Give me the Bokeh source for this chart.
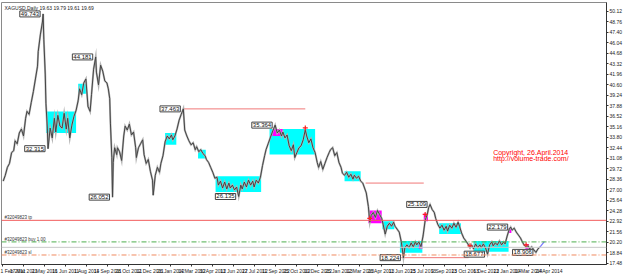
from bokeh.plotting import figure
from bokeh.models import Range1d, FixedTicker, Label, Span
from bokeh.core.properties import value
from bokeh.embed import file_html
from bokeh.resources import INLINE

# ---------------- data ----------------
bars = [1, 4, 7, 10, 13, 16, 18, 21, 24, 27,
        30, 33, 35, 38, 41, 44, 47, 50, 51, 54,
        57, 58, 59, 61, 62, 64, 65, 68, 71, 74,
        76, 79, 82, 85, 88, 91, 93, 96, 99, 102,
        105, 108, 110, 113, 116, 119, 122, 125, 127, 130,
        133, 134, 137, 140, 143, 146, 149, 151, 153, 154,
        156, 157, 158, 160, 163, 164, 167, 170, 173, 175,
        178, 181, 184, 187, 190, 191, 194, 197, 200, 202,
        205, 208, 211, 214, 215, 218, 221, 224, 226, 229,
        232, 235, 238, 241, 243, 246, 249, 252, 255, 258,
        260, 263, 266, 269, 272, 275, 277, 280, 283, 286,
        289, 291, 294, 297, 300, 303, 306, 308, 311, 314,
        317, 320, 323, 325, 328, 331, 334, 337, 340, 342,
        345, 348, 351, 354, 357, 359, 362, 365, 368, 371,
        374, 376, 379, 382, 385, 389, 392, 395, 398, 400,
        403, 406, 409, 412, 415, 417, 420, 423, 426, 429,
        432, 434, 437, 440, 443, 446, 449, 451, 454, 457,
        460, 463, 466, 468, 471, 474, 477, 480, 483, 485,
        488, 491, 494, 497, 500, 502, 505, 508, 511, 514,
        516, 519, 522, 524, 526, 529, 532, 535, 538, 541,
        543, 546, 549, 552, 555, 558, 560, 563, 566, 569,
        572, 574, 577, 580, 583, 586, 589, 591, 594, 597,
        600, 603, 606, 608, 610, 613, 616, 618, 621, 624,
        627, 630, 633, 635, 638, 641, 644, 647, 650, 652,
        655, 658, 661, 664, 667, 669, 672, 675, 678, 681,
        683, 686, 689, 692, 695, 698, 700, 703, 706, 709,
        712, 715, 717, 720, 723, 725, 727, 730, 733, 736,
        739, 741, 744, 747, 750, 752, 755, 758, 761, 764, 767]

close = [28.12, 28.88, 29.90, 30.41, 31.81, 32.06, 33.33, 32.95, 34.35, 34.85,
         33.96, 36.25, 37.14, 36.76, 38.28, 39.68, 41.33, 42.98, 44.88, 47.03,
         48.69, 49.743, 46.40, 41.97, 38.16, 34.98, 32.315, 34.98, 33.71, 36.25,
         34.47, 36.63, 35.23, 34.98, 36.89, 34.85, 36.25, 33.71, 35.36, 36.50,
         37.27, 38.54, 40.06, 39.30, 40.82, 41.33, 37.77, 37.14, 39.30, 42.60,
         44.181, 42.22, 40.57, 43.11, 42.35, 41.08, 40.82, 40.06, 38.79, 35.62,
         31.17, 26.052, 30.54, 32.44, 31.55, 32.44, 31.93, 30.79, 33.96, 35.23,
         34.73, 35.49, 34.09, 34.47, 32.44, 31.17, 32.44, 32.95, 33.46, 31.55,
         30.41, 30.92, 29.39, 28.25, 26.30, 28.88, 29.90, 29.27, 30.41, 31.42,
         33.20, 33.96, 33.58, 34.09, 33.46, 33.96, 34.85, 36.00, 36.76, 37.463,
         34.73, 33.96, 33.33, 32.82, 33.08, 32.19, 32.57, 31.93, 32.19, 31.68,
         31.42, 30.92, 30.54, 29.90, 29.27, 28.50, 28.63, 27.61, 28.12, 27.23,
         28.00, 27.11, 27.87, 27.23, 27.61, 26.98, 27.36, 26.135, 27.61, 27.11,
         28.00, 27.36, 28.25, 27.61, 28.12, 27.36, 28.25, 27.87, 28.63, 30.15,
         31.42, 32.19, 32.95, 33.71, 34.47, 35.364, 34.35, 34.73, 33.96, 34.47,
         33.71, 34.09, 32.69, 32.06, 32.82, 31.17, 31.81, 32.44, 32.69, 33.46,
         34.75, 33.96, 33.08, 33.58, 32.44, 31.81, 30.54, 29.90, 30.66, 29.65,
         30.41, 31.17, 31.81, 32.19, 32.44, 31.42, 31.81, 30.54, 29.90, 29.14,
         28.88, 29.27, 28.63, 29.01, 28.38, 28.88, 28.50, 28.76, 28.12, 27.87,
         27.36, 26.60, 24.83, 22.80, 23.69, 24.07, 23.43, 24.32, 23.81, 23.31,
         22.54, 21.27, 22.29, 22.67, 22.29, 22.80, 22.29, 21.91, 21.53, 20.26,
         18.224, 19.50, 19.88, 19.50, 20.13, 19.62, 20.26, 19.88, 20.26, 19.62,
         21.02, 23.05, 23.81, 24.70, 25.109, 24.45, 24.07, 23.31, 22.54, 22.04,
         22.42, 21.78, 22.29, 21.66, 22.42, 22.04, 22.67, 22.16, 22.80, 22.29,
         21.40, 20.77, 20.39, 20.00, 19.50, 19.88, 19.37, 20.00, 19.50, 19.88,
         19.50, 20.00, 19.50, 18.677, 19.88, 20.26, 19.75, 20.13, 19.88, 20.39,
         19.88, 20.26, 20.00, 21.02, 21.91, 22.179, 21.78, 22.04, 21.53, 21.15,
         20.77, 20.39, 19.88, 19.62, 19.75, 19.37, 19.62, 19.24, 18.906, 19.37, 19.62]

# last forming move (drawn blue)
tail_bars = [767, 773]
tail_close = [19.62, 20.30]

# zig-zag extreme labels
zz_bar = [58, 65, 133, 157, 258, 337, 389, 572, 610, 692, 725, 761]
zz_price = [49.743, 32.315, 44.181, 26.052, 37.463, 26.135, 35.364, 18.224, 25.109, 18.677, 22.179, 18.906]

# consolidation zones (cyan) and volume zones (magenta)
cyan_x0 = [62, 108, 232, 279, 304, 381, 488, 542, 567, 623, 672]
cyan_x1 = [105, 119, 248, 290, 369, 446, 511, 559, 599, 654, 722]
cyan_top = [37.14, 40.70, 34.35, 32.19, 28.76, 34.85, 29.39, 22.92, 20.39, 22.67, 20.39]
cyan_bot = [34.35, 39.43, 32.82, 31.05, 26.73, 31.55, 28.12, 21.91, 18.86, 21.27, 18.99]

mag_x0 = [385, 522, 594, 601, 722, 746]
mag_x1 = [400, 541, 599, 607, 726, 751]
mag_top = [34.85, 24.32, 20.00, 23.94, 22.04, 20.00]
mag_bot = [33.96, 22.67, 19.37, 22.92, 21.40, 19.37]

# signal marks
sig_bar = [432, 524, 603, 667, 747]
sig_price = [35.00, 23.31, 23.81, 19.75, 19.88]

# horizontal level segments
lvl_x0 = [258, 518, 569]
lvl_x1 = [432, 601, 665]
lvl_price = [37.463, 27.87, 18.224]

# order lines
tp_level = 23.05
open_level = 20.26
bid_level = 19.56
sl_level = 18.57
order_names = ["#32049823 tp", "#32049823 buy 1.00", "#32049823 sl"]

# axes
y_ticks = [50.12, 48.76, 47.40, 46.04, 44.68, 43.32, 41.96, 40.60, 39.24, 37.88,
           36.52, 35.16, 33.80, 32.44, 31.08, 29.72, 28.36, 27.00, 25.64, 24.28,
           22.92, 21.56, 20.20, 18.84, 17.48]
x_ticks = [0, 30, 60, 90, 120, 150, 180, 210, 240, 270, 300, 330, 360, 390,
           420, 450, 480, 510, 540, 570, 600, 630, 660, 690, 720, 750, 780]
x_labels = ["1 Feb 2011", "17 Mar 2011", "2 May 2011", "16 Jun 2011", "1 Aug 2011",
            "14 Sep 2011", "28 Oct 2011", "12 Dec 2011", "26 Jan 2012", "14 Mar 2012",
            "30 Apr 2012", "13 Jun 2012", "27 Jul 2012", "11 Sep 2012", "25 Oct 2012",
            "10 Dec 2012", "25 Jan 2013", "12 Mar 2013", "26 Apr 2013", "11 Jun 2013",
            "25 Jul 2013", "9 Sep 2013", "23 Oct 2013", "6 Dec 2013", "22 Jan 2014",
            "10 Mar 2014", "24 Apr 2014"]

title_text = "XAGUSD,Daily  19.63 19.79 19.61 19.69"
copyright_lines = ["Copyright, 26.April.2014", "http://volume-trade.com/"]

# ---------------- figure ----------------
X0, X1 = -1.4, 861.7
Y0, Y1 = 17.34, 51.22
FONT = value("Liberation Sans")

p = figure(width=625, height=276, output_backend="svg", toolbar_location=None,
           x_range=Range1d(X0, X1), y_range=Range1d(Y0, Y1),
           y_axis_location="right",
           min_border_left=1, min_border_top=2, min_border_right=14, min_border_bottom=7)
p.xgrid.visible = False
p.ygrid.visible = False
p.outline_line_color = "#8a8a8a"
p.background_fill_color = "white"
p.border_fill_color = "white"

for ax in (p.xaxis[0], p.yaxis[0]):
    ax.axis_line_color = "#333333"
    ax.major_tick_line_color = "#333333"
    ax.major_tick_out = 2
    ax.major_tick_in = 0
    ax.minor_tick_line_color = None
    ax.major_label_text_font = "Liberation Sans"
    ax.major_label_text_font_size = "5px"
    ax.major_label_text_color = "#222222"
    ax.major_label_standoff = 1

p.yaxis.ticker = FixedTicker(ticks=y_ticks)
p.yaxis.major_label_overrides = {t: f"{t:.2f}" for t in y_ticks}
p.xaxis.ticker = FixedTicker(ticks=x_ticks)
p.xaxis.major_label_overrides = dict(zip(x_ticks, x_labels))
p.xaxis.major_label_text_align = "left"

# zones
p.quad(left=cyan_x0, right=cyan_x1, top=cyan_top, bottom=cyan_bot,
       fill_color="#00ffff", line_color=None)
p.quad(left=mag_x0, right=mag_x1, top=mag_top, bottom=mag_bot,
       fill_color="#ff00ff", line_color=None)

# full-width order lines
p.add_layout(Span(location=tp_level, dimension="width", line_color="#f25c5c", line_width=1))
p.add_layout(Span(location=open_level, dimension="width", line_color="#4cae4c",
                  line_width=1, line_dash="5 2 1 2"))
p.add_layout(Span(location=bid_level, dimension="width", line_color="#c8c8c8", line_width=1))
p.add_layout(Span(location=sl_level, dimension="width", line_color="#f08a60",
                  line_width=1, line_dash="5 2 1 2"))

# level segments
p.segment(x0=lvl_x0, y0=lvl_price, x1=lvl_x1, y1=lvl_price, line_color="#f07878", line_width=1)

# price (a soft grey band under a dark line, like dense daily bars)
p.line(bars, close, line_color="#b4b4b4", line_width=2, line_join="miter")
p.line(bars, close, line_color="#454545", line_width=1)
p.line(tail_bars, tail_close, line_color="#7878ff", line_width=1.2)

# signals
p.scatter(sig_bar, sig_price, marker="cross", size=5, line_color="#ff2020", line_width=1.2)

# zig-zag labels
p.text(x=zz_bar, y=zz_price, text=[f"{v:.3f}" for v in zz_price],
       text_font=FONT, text_font_size="6px", text_color="#111111",
       text_align="right", text_baseline="middle", x_offset=-3,
       background_fill_color="white", border_line_color="#444444", border_line_width=1,
       padding=1)

# order line names
p.text(x=[X0] * 3, y=[tp_level, open_level, sl_level], text=order_names,
       text_font=FONT, text_font_size="4.5px", text_color="#333333",
       text_align="left", text_baseline="bottom", x_offset=3)

# title and copyright
p.text(x=[X0], y=[Y1], text=[title_text], text_font=FONT, text_font_size="5px",
       text_color="#222222", text_align="left", text_baseline="top", x_offset=3, y_offset=2)
p.text(x=[700, 700], y=[31.81, 31.0], text=copyright_lines, text_font=FONT,
       text_font_size="7px", text_color="#ff0000", text_align="left", text_baseline="middle")

# price boxes on the axis
p.add_layout(Label(x=X1, y=tp_level, x_offset=1, text=f"{tp_level:.2f}",
                   text_font="Liberation Sans", text_font_size="5px", text_color="white",
                   text_baseline="middle", background_fill_color="#ff2a2a"))
p.add_layout(Label(x=X1, y=bid_level, x_offset=1, text=f"{bid_level:.2f}",
                   text_font="Liberation Sans", text_font_size="5px", text_color="white",
                   text_baseline="middle", background_fill_color="#111111"))

open("out.html", "w").write(file_html(p, INLINE))
